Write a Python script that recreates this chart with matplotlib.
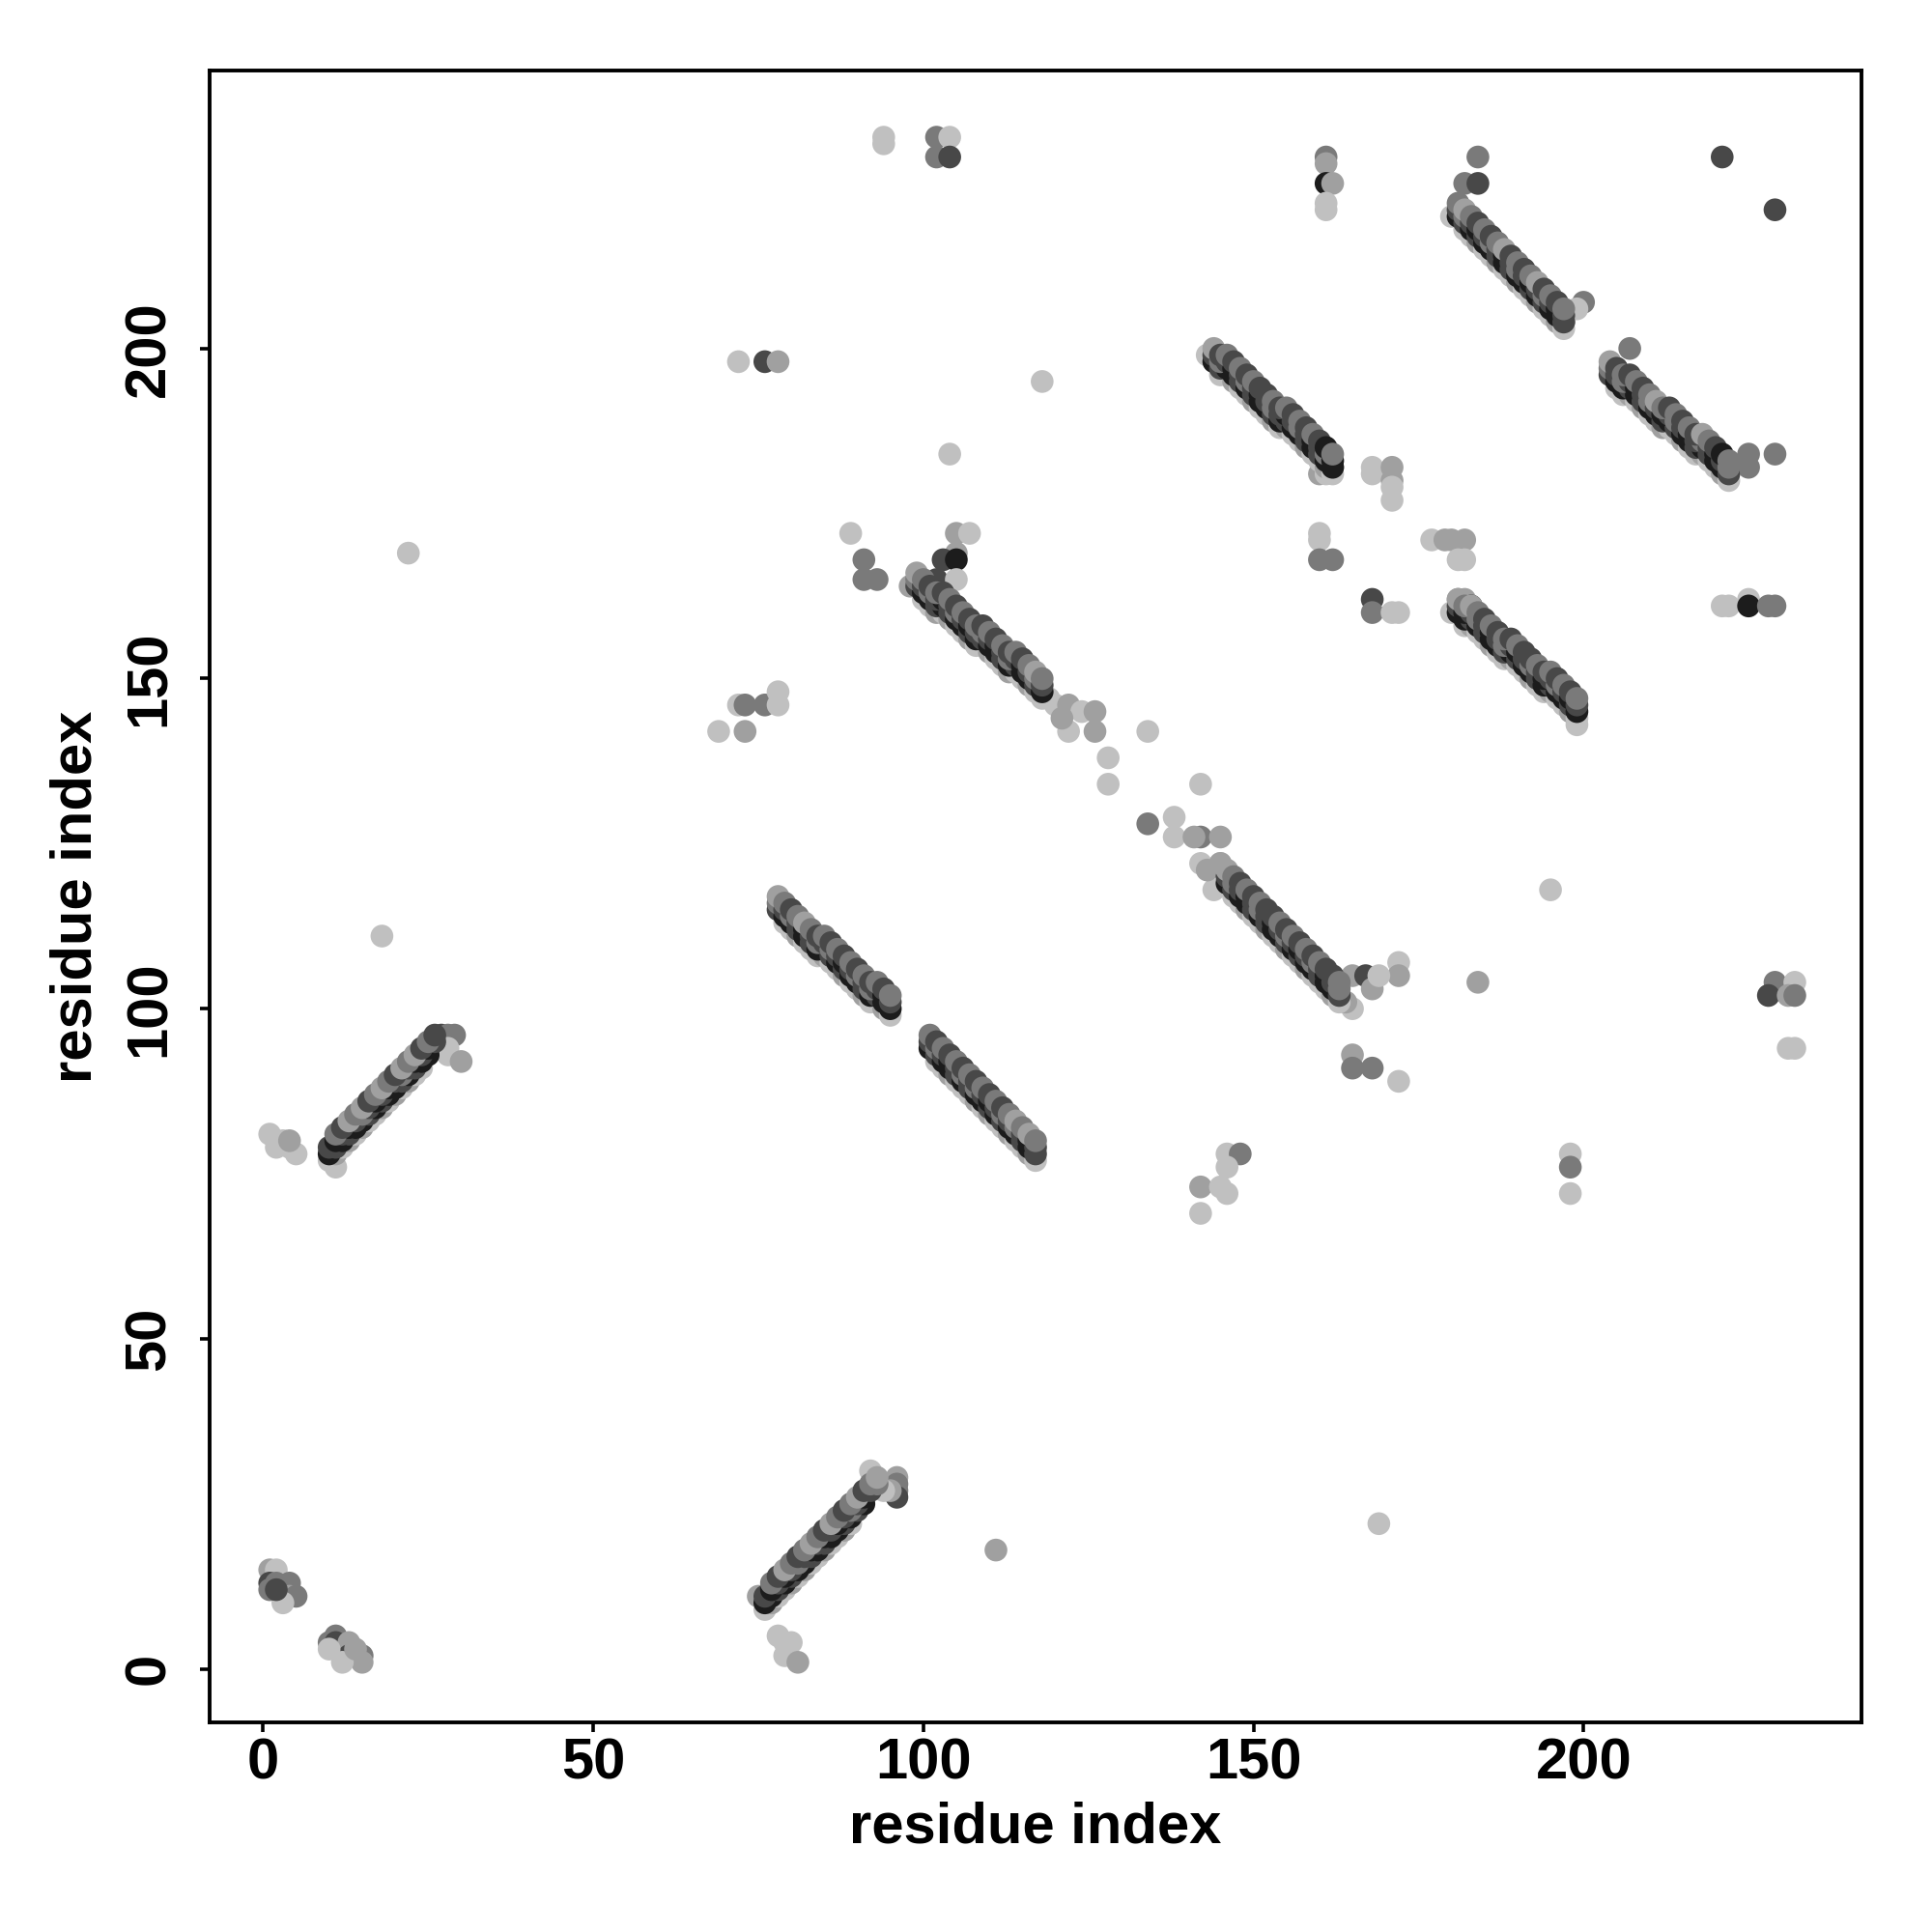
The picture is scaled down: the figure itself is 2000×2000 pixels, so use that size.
import matplotlib
matplotlib.use("Agg")
import matplotlib.pyplot as plt

plt.rcParams["font.family"] = ["Liberation Sans", "DejaVu Sans"]
plt.rcParams["font.weight"] = "bold"

# grey levels used by the contact points (0 = darkest)
GREYS = {"0": "#1c1c1c", "1": "#484848", "2": "#7a7a7a", "3": "#a0a0a0", "4": "#c0c0c0"}

TICKS = [0, 50, 100, 150, 200]
TICK_LABELS = ["0", "50", "100", "150", "200"]

# ---- strands: each row is (residue i, residue j, grey code per point) ----
s1 = [
    ([10, 11, 12, 13, 14, 15, 16, 17, 18, 19, 20, 21, 22, 23, 24],
     [77, 78, 79, 80, 81, 82, 83, 84, 85, 86, 87, 88, 89, 90, 91], "434343443434344"),
    ([10, 11, 12, 13, 14, 15, 16, 17, 18, 19, 20, 21, 22, 23, 24, 25],
     [78, 79, 80, 81, 82, 83, 84, 85, 86, 87, 88, 89, 90, 91, 92, 93], "0101001010010100"),
    ([10, 11, 12, 13, 14, 15, 16, 17, 18, 19, 20, 21, 22, 23, 24, 25, 26],
     [79, 80, 81, 82, 83, 84, 85, 86, 87, 88, 89, 90, 91, 92, 93, 94, 95], "10101210101210101"),
    ([11, 12, 13, 14, 15, 16, 17, 18, 19, 20, 21, 22, 23, 24, 25, 26],
     [81, 82, 83, 84, 85, 86, 87, 88, 89, 90, 91, 92, 93, 94, 95, 96], "2132312321323121"),
]
s3 = [
    ([76, 77, 78, 79, 80, 81, 82, 83, 84, 85, 86, 87, 88, 89],
     [9, 10, 11, 12, 13, 14, 15, 16, 17, 18, 19, 20, 21, 22], "43443434434434"),
    ([76, 77, 78, 79, 80, 81, 82, 83, 84, 85, 86, 87, 88, 89, 90, 91],
     [10, 11, 12, 13, 14, 15, 16, 17, 18, 19, 20, 21, 22, 23, 24, 25], "0010100101001010"),
    ([76, 77, 78, 79, 80, 81, 82, 83, 84, 85, 86, 87, 88, 89, 90, 91, 92, 93],
     [11, 12, 13, 14, 15, 16, 17, 18, 19, 20, 21, 22, 23, 24, 25, 26, 27, 28], "101012101010121012"),
    ([77, 78, 79, 80, 81, 82, 83, 84, 85, 86, 87, 88, 89, 90, 91, 92, 93],
     [13, 14, 15, 16, 17, 18, 19, 20, 21, 22, 23, 24, 25, 26, 27, 28, 29], "21321232132123123"),
]
s4 = [
    ([79, 80, 81, 82, 83, 84, 85, 86, 87, 88, 89, 90, 91, 92, 93, 94, 95],
     [113, 112, 111, 110, 109, 108, 108, 107, 106, 105, 104, 103, 102, 101, 101, 100, 99], "44344434434434434"),
    ([78, 79, 80, 81, 82, 83, 84, 85, 86, 87, 88, 89, 90, 91, 92, 93, 94, 95],
     [115, 114, 113, 112, 111, 110, 109, 109, 108, 107, 106, 105, 104, 103, 102, 102, 101, 100], "100101001010010100"),
    ([78, 79, 80, 81, 82, 83, 84, 85, 86, 87, 88, 89, 90, 91, 92, 93, 94, 95],
     [116, 115, 114, 113, 112, 111, 110, 110, 109, 108, 107, 106, 105, 104, 103, 103, 102, 101], "212101212101212101"),
    ([78, 79, 80, 81, 82, 83, 84, 85, 86, 87, 88, 89, 90, 91, 92, 93, 94, 95],
     [117, 116, 115, 114, 113, 112, 111, 111, 110, 109, 108, 107, 106, 105, 104, 104, 103, 102], "321232121212121212"),
]
s5 = [
    ([102, 103, 104, 105, 106, 107, 108, 109, 110, 111, 112, 113, 114, 115, 116, 117],
     [92, 91, 90, 89, 88, 87, 86, 85, 84, 83, 82, 81, 80, 79, 78, 77], "4434443434434434"),
    ([101, 102, 103, 104, 105, 106, 107, 108, 109, 110, 111, 112, 113, 114, 115, 116, 117],
     [94, 93, 92, 91, 90, 89, 88, 87, 86, 85, 84, 83, 82, 81, 80, 79, 78], "01001010010100101"),
    ([101, 102, 103, 104, 105, 106, 107, 108, 109, 110, 111, 112, 113, 114, 115, 116, 117],
     [95, 94, 93, 92, 91, 90, 89, 88, 87, 86, 85, 84, 83, 82, 81, 80, 79], "12101212101212101"),
    ([101, 102, 103, 104, 105, 106, 107, 108, 109, 110, 111, 112, 113, 114, 115, 116, 117],
     [96, 95, 94, 93, 92, 91, 90, 89, 88, 87, 86, 85, 84, 83, 82, 81, 80], "21212121212123232"),
]
s6 = [
    ([100, 101, 102, 103, 104, 105, 106, 107, 108, 109, 110, 111, 112, 113, 114, 115, 116, 117, 118],
     [162, 161, 160, 160, 159, 158, 157, 156, 155, 155, 154, 153, 152, 151, 151, 150, 149, 148, 147], "4434344344344344344"),
    ([99, 100, 101, 102, 103, 104, 105, 106, 107, 108, 109, 110, 111, 112, 113, 114, 115, 116, 117, 118],
     [164, 163, 162, 161, 161, 160, 159, 158, 157, 156, 156, 155, 154, 153, 152, 152, 151, 150, 149, 148], "10010100101001010010"),
    ([99, 100, 101, 102, 103, 104, 105, 106, 107, 108, 109, 110, 111, 112, 113, 114, 115, 116, 117, 118],
     [165, 164, 163, 162, 162, 161, 160, 159, 158, 157, 157, 156, 155, 154, 153, 153, 152, 151, 150, 149], "21210121012101210121"),
    ([99, 100, 101, 102, 103, 104, 105, 106, 107, 108, 109, 110, 111, 112, 113, 114, 115, 116, 117, 118],
     [166, 165, 164, 163, 163, 162, 161, 160, 159, 158, 158, 157, 156, 155, 154, 154, 153, 152, 151, 150], "32121212121212121232"),
]
s7 = [
    ([147, 148, 149, 150, 151, 152, 153, 154, 155, 156, 157, 158, 159, 160, 161, 162, 163],
     [117, 116, 115, 114, 113, 112, 111, 110, 109, 108, 107, 106, 105, 104, 103, 102, 101], "44344344344344434"),
    ([146, 147, 148, 149, 150, 151, 152, 153, 154, 155, 156, 157, 158, 159, 160, 161, 162, 163],
     [119, 118, 117, 116, 115, 114, 113, 112, 111, 110, 109, 108, 107, 106, 105, 104, 103, 102], "010010100101001001"),
    ([146, 147, 148, 149, 150, 151, 152, 153, 154, 155, 156, 157, 158, 159, 160, 161, 162, 163],
     [120, 119, 118, 117, 116, 115, 114, 113, 112, 111, 110, 109, 108, 107, 106, 105, 104, 103], "121012101210121012"),
    ([145, 146, 147, 148, 149, 150, 151, 152, 153, 154, 155, 156, 157, 158, 159, 160, 161, 162, 163],
     [122, 121, 120, 119, 118, 117, 116, 115, 114, 113, 112, 111, 110, 109, 108, 107, 106, 105, 104], "3321212112121212112"),
]
s8 = [
    ([145, 146, 147, 148, 149, 150, 151, 152, 153, 154, 155, 156, 157, 158, 159, 160, 161, 162],
     [196, 196, 195, 194, 193, 192, 191, 190, 189, 188, 188, 187, 186, 185, 184, 183, 182, 181], "443443443434434434"),
    ([144, 145, 146, 147, 148, 149, 150, 151, 152, 153, 154, 155, 156, 157, 158, 159, 160, 161, 162],
     [198, 197, 197, 196, 195, 194, 193, 192, 191, 190, 189, 189, 188, 187, 186, 185, 184, 183, 182], "0100101001010010100"),
    ([144, 145, 146, 147, 148, 149, 150, 151, 152, 153, 154, 155, 156, 157, 158, 159, 160, 161, 162],
     [199, 198, 198, 197, 196, 195, 194, 193, 192, 191, 190, 190, 189, 188, 187, 186, 185, 184, 183], "1210121012101210120"),
    ([144, 145, 146, 147, 148, 149, 150, 151, 152, 153, 154, 155, 156, 157, 158, 159, 160, 161, 162],
     [200, 199, 199, 198, 197, 196, 195, 194, 193, 192, 191, 191, 190, 189, 188, 187, 186, 185, 184], "3121212112121212102"),
]
s9 = [
    ([182, 183, 184, 185, 186, 187, 188, 189, 190, 191, 192, 193, 194, 195, 196, 197, 198, 199],
     [158, 158, 157, 156, 155, 154, 153, 153, 152, 151, 150, 149, 148, 148, 147, 146, 145, 144], "434434434434434434"),
    ([181, 182, 183, 184, 185, 186, 187, 188, 189, 190, 191, 192, 193, 194, 195, 196, 197, 198, 199],
     [160, 159, 159, 158, 157, 156, 155, 154, 154, 153, 152, 151, 150, 149, 149, 148, 147, 146, 145], "0010100101001010010"),
    ([181, 182, 183, 184, 185, 186, 187, 188, 189, 190, 191, 192, 193, 194, 195, 196, 197, 198, 199],
     [161, 160, 160, 159, 158, 157, 156, 155, 155, 154, 153, 152, 151, 150, 150, 149, 148, 147, 146], "1012101210121012101"),
    ([181, 182, 183, 184, 185, 186, 187, 188, 189, 190, 191, 192, 193, 194, 195, 196, 197, 198, 199],
     [162, 161, 161, 160, 159, 158, 157, 156, 156, 155, 154, 153, 152, 151, 151, 150, 149, 148, 147], "3232121212112121212"),
]
s10 = [
    ([182, 183, 184, 185, 186, 187, 188, 189, 190, 191, 192, 193, 194, 195, 196, 197],
     [218, 217, 216, 215, 214, 213, 212, 211, 210, 209, 208, 207, 206, 205, 204, 203], "4434434434434434"),
    ([181, 182, 183, 184, 185, 186, 187, 188, 189, 190, 191, 192, 193, 194, 195, 196, 197],
     [220, 219, 218, 217, 216, 215, 214, 213, 212, 211, 210, 209, 208, 207, 206, 205, 204], "01010010100101001"),
    ([181, 182, 183, 184, 185, 186, 187, 188, 189, 190, 191, 192, 193, 194, 195, 196, 197],
     [221, 220, 219, 218, 217, 216, 215, 214, 213, 212, 211, 210, 209, 208, 207, 206, 205], "12101210121012101"),
    ([181, 182, 183, 184, 185, 186, 187, 188, 189, 190, 191, 192, 193, 194, 195, 196, 197],
     [222, 221, 220, 219, 218, 217, 216, 215, 214, 213, 212, 211, 210, 209, 208, 207, 206], "23212123121231212"),
]
s11 = [
    ([205, 206, 207, 208, 209, 210, 211, 212, 213, 214, 215, 216, 217, 218, 219, 220, 221, 222],
     [194, 193, 193, 192, 191, 190, 189, 188, 188, 187, 186, 185, 184, 184, 183, 182, 181, 180], "443434434434434434"),
    ([204, 205, 206, 207, 208, 209, 210, 211, 212, 213, 214, 215, 216, 217, 218, 219, 220, 221, 222],
     [196, 195, 194, 194, 193, 192, 191, 190, 189, 189, 188, 187, 186, 185, 185, 184, 183, 182, 181], "1001010010100101001"),
    ([204, 205, 206, 207, 208, 209, 210, 211, 212, 213, 214, 215, 216, 217, 218, 219, 220, 221, 222],
     [197, 196, 195, 195, 194, 193, 192, 191, 190, 190, 189, 188, 187, 186, 186, 185, 184, 183, 182], "2121012101210121012"),
    ([204, 205, 206, 207, 208, 209, 210, 211, 212, 213, 214, 215, 216, 217, 218, 219, 220, 221, 222],
     [198, 197, 196, 196, 195, 194, 193, 192, 191, 191, 190, 189, 188, 187, 187, 186, 185, 184, 183], "3121212321212132102"),
]

# ---- small clusters and isolated contacts ----
cl_x = [1, 2, 1, 2, 3, 4, 4, 5, 3, 1, 2,
        10, 11, 11, 12, 13, 13, 14, 15, 15, 12, 10, 14,
        1, 2, 3, 4, 5, 4, 11,
        27, 28, 29, 28, 28, 30,
        96, 96, 96, 96, 95, 92, 94, 78, 80, 79, 81, 79, 75]
cl_y = [15, 15, 13, 13, 12, 13, 11, 11, 10, 12, 12,
        4, 5, 4, 3, 4, 2, 2, 2, 1, 1, 3, 3,
        81, 79, 80, 79, 78, 80, 76,
        96, 96, 96, 94, 93, 92,
        29, 28, 27, 26, 27, 30, 27, 5, 4, 2, 1, 4, 11]
cl_g = ("34121232421" "221131223443" "4444434" "122443" "3221344444343")

sc_x = [119, 120, 122, 124, 126, 122, 126, 128, 128, 134, 121,
        105, 107, 105, 103, 105, 102, 105, 98, 89, 91, 91, 93,
        144, 142, 145, 143, 142, 145, 138, 134, 138, 142, 141,
        165, 167, 168, 172, 172, 169, 165, 165, 165, 168, 172, 164,
        142, 142, 146, 148, 146, 145, 146,
        143, 160, 161, 162, 161,
        199, 198, 181, 182, 180, 183,
        182, 184, 184, 180, 200, 199, 197,
        207, 205, 225, 225, 229, 222, 221,
        94, 94, 102, 104, 102, 104,
        161, 161, 161, 162, 161, 161,
        221, 229, 72, 76, 78, 118, 104,
        168, 168, 171, 171, 171, 171,
        160, 160, 160, 162,
        177, 179, 180, 182, 181, 182,
        168, 168, 171, 172,
        221, 222, 225, 225, 228, 229,
        69, 72, 73, 73, 76, 78, 78,
        195, 184, 229, 232, 228, 231, 232, 231, 232,
        198, 198, 198, 169, 111, 18, 22]
sc_y = [147, 146, 146, 145, 145, 142, 142, 138, 134, 142, 144,
        172, 172, 169, 168, 168, 165, 165, 164, 172, 168, 165, 165,
        118, 122, 122, 121, 126, 126, 129, 128, 126, 134, 126,
        105, 105, 103, 107, 105, 105, 100, 93, 91, 91, 89, 101,
        73, 69, 78, 78, 76, 73, 72,
        199, 181, 181, 182, 184,
        143, 145, 162, 162, 160, 161,
        225, 225, 229, 220, 207, 206, 204,
        200, 197, 184, 182, 184, 181, 182,
        232, 231, 232, 232, 229, 229,
        229, 228, 225, 225, 222, 221,
        229, 221, 198, 198, 198, 195, 184,
        182, 181, 182, 180, 179, 177,
        172, 171, 168, 168,
        171, 171, 171, 171, 168, 168,
        162, 160, 160, 160,
        161, 161, 162, 161, 161, 161,
        142, 146, 146, 142, 146, 148, 146,
        118, 104, 104, 104, 102, 102, 102, 94, 94,
        78, 76, 72, 22, 18, 111, 169]
sc_g = ("44343434443" "343101434222" "44432342443" "313434432243" "3442444"
        "43440" "443340" "2124242" "2122242"
        "442421" "230344" "1141344" "443344" "4422" "433344" "1244" "444022"
        "4423244" "432413244" "4244344")

strands = [s1, s3, s4, s5, s6, s7, s8, s9, s10, s11]


def draw(ax, xs, ys, codes):
    assert len(xs) == len(ys) == len(codes), (len(xs), len(ys), len(codes))
    ax.scatter(xs, ys, s=72, c=[GREYS[k] for k in codes], linewidths=0, zorder=3)


fig = plt.figure(figsize=(10, 10), dpi=200)
ax = fig.add_axes([0.1085, 0.1085, 0.855, 0.855])

draw(ax, cl_x, cl_y, cl_g)
draw(ax, sc_x, sc_y, sc_g)
for strand in strands:
    for xs, ys, codes in strand:
        draw(ax, xs, ys, codes)

ax.set_xlim(-8.1, 242.1)
ax.set_ylim(-8.1, 242.1)
ax.set_xticks(TICKS)
ax.set_xticklabels(TICK_LABELS, fontsize=21.5, fontweight="bold")
ax.set_yticks(TICKS)
ax.set_yticklabels(TICK_LABELS, fontsize=21.5, fontweight="bold", rotation=90, va="center")
ax.tick_params(axis="both", length=3.5, width=1.3, direction="out")
ax.tick_params(axis="x", pad=2)
ax.tick_params(axis="y", pad=9)
for sp in ax.spines.values():
    sp.set_linewidth(1.4)

fig.text(0.536, 0.054, "residue index", ha="center", va="center",
         fontsize=21.5, fontweight="bold")
fig.text(0.0395, 0.536, "residue index", ha="center", va="center",
         fontsize=21.5, fontweight="bold", rotation=90)

fig.savefig("out.png", dpi=200)
